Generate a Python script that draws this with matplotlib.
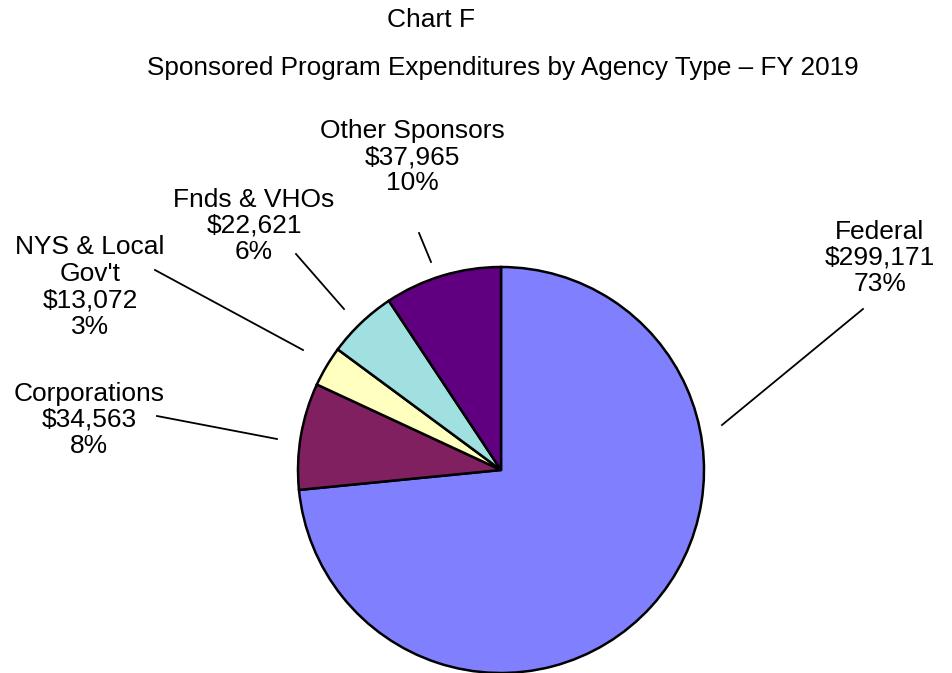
import matplotlib
matplotlib.use("Agg")
import matplotlib.pyplot as plt
from matplotlib import font_manager

categories = ["Federal", "Corporations", "NYS & Local\nGov't", "Fnds & VHOs", "Other Sponsors"]
values = [299171, 34563, 13072, 22621, 37965]
percents = ["73%", "8%", "3%", "6%", "10%"]
colors = ["#8080FF", "#802060", "#FFFFC0", "#A0E0E0", "#600080"]

W, H = 953, 673
fig = plt.figure(figsize=(W / 100, H / 100), dpi=100)
ax = fig.add_axes([0, 0, 1, 1])

names = {f.name for f in font_manager.fontManager.ttflist}
title_font = "Liberation Sans Narrow" if "Liberation Sans Narrow" in names else "Liberation Sans"
label_font = "Liberation Sans"

cx, cy, r = 501, H - 470, 203
ax.pie(values, colors=colors, startangle=90, counterclock=False,
       center=(cx, cy), radius=r, frame=True,
       wedgeprops=dict(edgecolor="black", linewidth=1.8))
ax.set_xlim(0, W)
ax.set_ylim(0, H)
ax.set_aspect("equal")
ax.axis("off")

def fy(y):
    return H - y

# label text centers (pixels from top) and leader lines
label_pos = [(880, 258), (89, 420), (90, 287), (254, 226), (412, 157)]
leaders = [((863, 309), (722, 425)),
           ((157, 416), (277, 439)),
           ((155, 270), (303, 350)),
           ((296, 254), (344, 309)),
           ((419, 233), (431, 262))]

for name, v, p, (tx, ty), (a, b) in zip(categories, values, percents, label_pos, leaders):
    txt = f"{name}\n${v:,}\n{p}"
    ax.text(tx, fy(ty), txt, ha="center", va="center", fontsize=19,
            family=label_font, linespacing=1.13)
    ax.plot([a[0], b[0]], [fy(a[1]), fy(b[1])], color="black", linewidth=1.3)

ax.text(431, fy(20), "Chart F", ha="center", va="center", fontsize=19,
        family=title_font, fontweight="medium")
ax.text(503, fy(68), "Sponsored Program Expenditures by Agency Type – FY 2019",
        ha="center", va="center", fontsize=18.8, family=title_font, fontweight="medium")

fig.savefig("out.png", dpi=100)
